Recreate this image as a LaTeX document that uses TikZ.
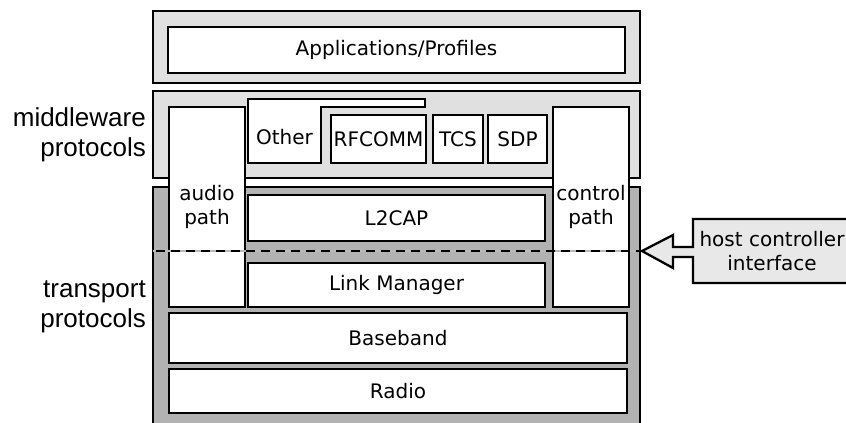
\documentclass[tikz,border=0pt]{standalone}
\usepackage{fontspec}
\setmainfont{DejaVu Sans}
\newfontfamily\lblfont{Liberation Sans}
\definecolor{lightpanel}{gray}{0.88}
\definecolor{darkpanel}{gray}{0.70}
\definecolor{hcifill}{gray}{0.91}
\begin{document}
\begin{tikzpicture}[x=1pt,y=-1pt,
  box/.style={draw, line width=2.3pt, fill=white, inner sep=0pt, font=\fontsize{20}{24}\selectfont, align=center},
  panel/.style={draw, line width=2.3pt, inner sep=0pt},
  txt/.style={inner sep=0pt, font=\fontsize{20}{24}\selectfont, align=center},
  side/.style={font=\lblfont\fontsize{26}{30}\selectfont, align=right, anchor=east, inner sep=0pt}]
\useasboundingbox (0,0) rectangle (846,423);
\clip (0,0) rectangle (846,423);
% panels
\node[panel, fill=lightpanel, minimum width=487pt, minimum height=72pt] (top) at (396.5,47) {};
\node[panel, fill=lightpanel, minimum width=487pt, minimum height=87pt] (mid) at (396.5,134.5) {};
\node[panel, fill=darkpanel, minimum width=487pt, minimum height=253pt] (trans) at (396.5,313.5) {};
% top layer
\node[box, minimum width=457pt, minimum height=46pt] (apps) at (396.5,50) {Applications/Profiles};
% middleware
\draw[line width=2.3pt, fill=white] (248,99) -- (425,99) -- (425,107) -- (321,107) -- (321,163) -- (248,163) -- cycle;
\node[txt] (other) at (284.5,137) {Other};
\node[box, minimum width=95pt, minimum height=48pt] (rfcomm) at (378.5,139) {RFCOMM};
\node[box, minimum width=50pt, minimum height=48pt] (tcs) at (458,139) {TCS};
\node[box, minimum width=59pt, minimum height=48pt] (sdp) at (517.5,139) {SDP};
% paths
\node[box, minimum width=76pt, minimum height=200pt] (audio) at (207,207) {audio\\path};
\node[box, minimum width=76pt, minimum height=200pt] (control) at (591,207) {control\\path};
% transport
\node[box, minimum width=297pt, minimum height=46pt] (l2cap) at (396.5,218) {L2CAP};
\node[box, minimum width=297pt, minimum height=44pt] (lm) at (396.5,285) {Link Manager};
\node[box, minimum width=458pt, minimum height=50pt] (bb) at (398,338) {Baseband};
\node[box, minimum width=458pt, minimum height=44pt] (radio) at (398,391) {Radio};
% side labels
\node[side] (mwl) at (146,135) {middleware\\protocols};
\node[side] (tpl) at (146,307) {transport\\protocols};
% host controller interface arrow
\coordinate (tip) at (642,251);
\draw[line width=2.3pt, fill=hcifill, line join=miter]
  (693,219) -- (852,219) -- (852,283) -- (693,283) -- (693,257) -- (673,257) -- (673,268)
  -- (tip) -- (673,235) -- (673,247) -- (693,247) -- cycle;
\node[txt] (hci) at (772,251) {host controller\\interface};
% dashed interface line
\coordinate (dl) at (153,251);
\draw[gray!55, line width=1.1pt] (dl) -- (tip);
\draw[black, line width=1.1pt, dash pattern=on 9pt off 6pt, dash phase=-3pt] (dl) -- (tip);
\end{tikzpicture}
\end{document}
